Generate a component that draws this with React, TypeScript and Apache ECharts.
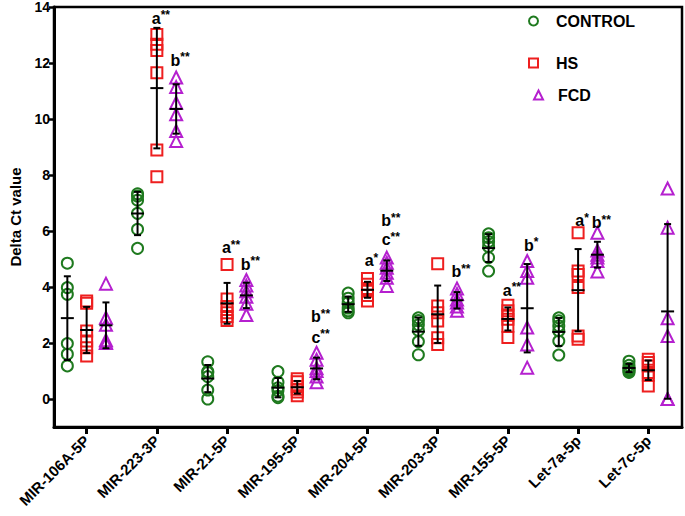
import React, { useEffect, useRef } from "react";
import * as echarts from "echarts";

const categories = [
  "MIR-106A-5P",
  "MIR-223-3P",
  "MIR-21-5P",
  "MIR-195-5P",
  "MIR-204-5P",
  "MIR-203-3P",
  "MIR-155-5P",
  "Let-7a-5p",
  "Let-7c-5p",
];

const controlValues = [
  [4.85, 3.98, 3.74, 1.98, 1.6, 1.18],
  [7.33, 7.25, 7.1, 6.63, 6.06, 5.38],
  [1.33, 0.98, 0.95, 0.8, 0.32, 0.0],
  [0.98, 0.6, 0.4, 0.3, 0.1, 0.05],
  [3.78, 3.6, 3.45, 3.25, 3.15, 3.08],
  [2.9, 2.8, 2.65, 2.45, 2.05, 1.58],
  [5.9, 5.76, 5.62, 5.44, 5.05, 4.57],
  [2.9, 2.79, 2.61, 2.43, 2.07, 1.57],
  [1.35, 1.2, 1.1, 1.05, 1.0, 0.95],
];

const hsValues = [
  [3.5, 3.42, 2.43, 2.07, 1.83, 1.54],
  [13.02, 12.67, 12.45, 11.65, 8.89, 7.94],
  [4.8, 3.57, 3.3, 3.08, 2.95, 2.8],
  [0.72, 0.62, 0.45, 0.35, 0.25, 0.12],
  [4.3, 4.1, 3.95, 3.85, 3.7, 3.5],
  [4.83, 3.32, 3.08, 2.79, 2.19, 1.95],
  [3.35, 3.15, 3.0, 2.85, 2.6, 2.2],
  [5.94, 4.57, 4.45, 3.98, 2.25, 2.13],
  [1.42, 1.3, 1.18, 0.95, 0.85, 0.46],
];

const fcdValues = [
  [4.12, 2.9, 2.65, 2.1, 2.02, 2.0],
  [11.48, 11.14, 10.58, 10.17, 9.57, 9.21],
  [4.25, 4.05, 3.85, 3.65, 3.4, 3.0],
  [1.65, 1.4, 1.1, 1.0, 0.8, 0.6],
  [5.05, 4.87, 4.69, 4.51, 4.33, 4.04],
  [3.95, 3.75, 3.55, 3.45, 3.3, 3.15],
  [4.93, 4.57, 4.33, 2.55, 1.95, 1.12],
  [5.94, 5.3, 5.15, 5.05, 4.93, 4.55],
  [7.52, 6.12, 2.88, 2.25, 0.0, 0.0],
];

const yTicks = [0, 2, 4, 6, 8, 10, 12, 14];

// significance labels: category index, group index (0 control, 1 HS, 2 FCD), y value, letter, stars
const annCategory = [1, 1, 2, 2, 3, 3, 4, 4, 4, 5, 6, 6, 7, 7];
const annGroup = [1, 2, 1, 2, 2, 2, 1, 2, 2, 2, 1, 2, 1, 2];
const annY = [13.6, 12.1, 5.4, 4.82, 2.93, 2.21, 4.93, 6.36, 5.68, 4.54, 3.89, 5.5, 6.36, 6.29];
const annLetter = ["a", "b", "a", "b", "b", "c", "a", "b", "c", "b", "a", "b", "a", "b"];
const annStars = ["**", "**", "**", "**", "**", "**", "*", "**", "**", "**", "**", "*", "*", "**"];

const FONT = "'Liberation Sans', Arial, Helvetica, sans-serif";
const GREEN = "#1f7a1f";
const RED = "#ee1f1f";
const PURPLE = "#b520cf";
const OFFSET = 0.275;
const groupOffsets = [-OFFSET, 0, OFFSET];

function mean(a: number[]) {
  return a.reduce((s, v) => s + v, 0) / a.length;
}
function sd(a: number[]) {
  const m = mean(a);
  return Math.sqrt(a.reduce((s, v) => s + (v - m) * (v - m), 0) / (a.length - 1));
}

export default function App() {
  const ref = useRef<HTMLDivElement>(null);
  useEffect(() => {
    if (!ref.current) return;
    const chart = echarts.init(ref.current, undefined, { renderer: "svg" });
    const groups = [controlValues, hsValues, fcdValues];
    const names = ["CONTROL", "HS", "FCD"];
    const colors = [GREEN, RED, PURPLE];
    const symbols = ["circle", "rect", "triangle"];

    const scatterSeries = groups.map((g, gi) => ({
      name: names[gi],
      type: "scatter",
      symbol: symbols[gi],
      symbolSize: gi === 2 ? 12 : 11,
      itemStyle: {
        color: "rgba(255,255,255,0)",
        borderColor: colors[gi],
        borderWidth: 2,
        opacity: 1,
      },
      data: g.flatMap((vals, ci) => vals.map((v) => [ci + groupOffsets[gi], v])),
      z: 3,
    }));

    const errData: number[][] = [];
    groups.forEach((g, gi) =>
      g.forEach((vals, ci) => errData.push([ci + groupOffsets[gi], mean(vals), sd(vals)]))
    );

    const errSeries = {
      type: "custom",
      name: "err",
      data: errData,
      encode: { x: 0, y: 1 },
      z: 4,
      renderItem: (_p: any, api: any) => {
        const x = api.value(0);
        const m = api.value(1);
        const s = api.value(2);
        const c = api.coord([x, m]);
        const t = api.coord([x, m + s]);
        const b = api.coord([x, m - s]);
        const st = { stroke: "#000", lineWidth: 2 };
        return {
          type: "group",
          children: [
            { type: "line", shape: { x1: c[0], y1: t[1], x2: c[0], y2: b[1] }, style: st },
            { type: "line", shape: { x1: c[0] - 3.5, y1: t[1], x2: c[0] + 3.5, y2: t[1] }, style: st },
            { type: "line", shape: { x1: c[0] - 3.5, y1: b[1], x2: c[0] + 3.5, y2: b[1] }, style: st },
            { type: "line", shape: { x1: c[0] - 6.5, y1: c[1], x2: c[0] + 6.5, y2: c[1] }, style: st },
          ],
        };
      },
    };

    const annSeries = {
      type: "scatter",
      name: "ann",
      symbolSize: 0,
      silent: true,
      z: 5,
      itemStyle: { opacity: 1 },
      data: annCategory.map((c, i) => ({
        value: [c + groupOffsets[annGroup[i]], annY[i]],
        name: `{l|${annLetter[i]}}{s|${annStars[i]}}`,
      })),
      label: {
        show: true,
        position: "inside",
        offset: [4, 0],
        color: "#000",
        opacity: 1,
        formatter: (p: any) => p.name,
        rich: {
          l: { fontSize: 16, fontWeight: "bold", color: "#000", fontFamily: FONT },
          s: {
            fontSize: 12,
            fontWeight: "bold",
            color: "#000",
            fontFamily: FONT,
            verticalAlign: "top",
            padding: [0, 0, 6, 0],
          },
        },
      },
    };

    const legendBase = {
      orient: "vertical",
      itemWidth: 9,
      itemHeight: 9,
      textStyle: {
        fontSize: 16,
        fontWeight: "bold",
        color: "#000",
        fontFamily: FONT,
        padding: [0, 0, 0, 13],
      },
    };

    chart.setOption({
      animation: false,
      backgroundColor: "#fff",
      grid: {
        left: 47,
        right: 3,
        top: 6,
        bottom: 89,
        show: true,
        borderColor: "#000",
        borderWidth: 2.5,
      },
      legend: [
        { ...legendBase, data: ["CONTROL"], left: 523, top: 8 },
        { ...legendBase, data: ["HS"], left: 523, top: 50 },
        {
          ...legendBase,
          data: ["FCD"],
          left: 528,
          top: 82,
          textStyle: { ...legendBase.textStyle, padding: [0, 0, 0, 10] },
        },
      ],
      xAxis: {
        type: "value",
        min: -0.465,
        max: 8.48,
        axisLine: { show: true, onZero: false, lineStyle: { color: "#000", width: 3 } },
        axisTick: {
          show: true,
          customValues: categories.map((_, i) => i),
          length: 7,
          lineStyle: { color: "#000", width: 3 },
        },
        axisLabel: {
          customValues: categories.map((_, i) => i),
          formatter: (v: number) => categories[Math.round(v)] ?? "",
          rotate: 45,
          margin: 11,
          fontSize: 15,
          fontWeight: "bold",
          color: "#000",
          fontFamily: FONT,
        },
        splitLine: { show: false },
      },
      yAxis: {
        type: "value",
        min: -1,
        max: 14,
        name: "Delta Ct value",
        nameLocation: "middle",
        nameGap: 31,
        nameTextStyle: { fontSize: 15, fontWeight: "bold", color: "#000", fontFamily: FONT },
        axisLine: { show: true, onZero: false, lineStyle: { color: "#000", width: 3 } },
        axisTick: { show: true, customValues: yTicks, length: 5, lineStyle: { color: "#000", width: 2.5 } },
        axisLabel: {
          customValues: yTicks,
          margin: 4,
          fontSize: 14,
          fontWeight: "bold",
          color: "#000",
          fontFamily: FONT,
        },
        splitLine: { show: false },
      },
      series: [...scatterSeries, errSeries, annSeries],
    });
    return () => chart.dispose();
  }, []);
  return <div ref={ref} style={{ width: 685, height: 516, position: "absolute", left: 0, top: 0 }} />;
}
